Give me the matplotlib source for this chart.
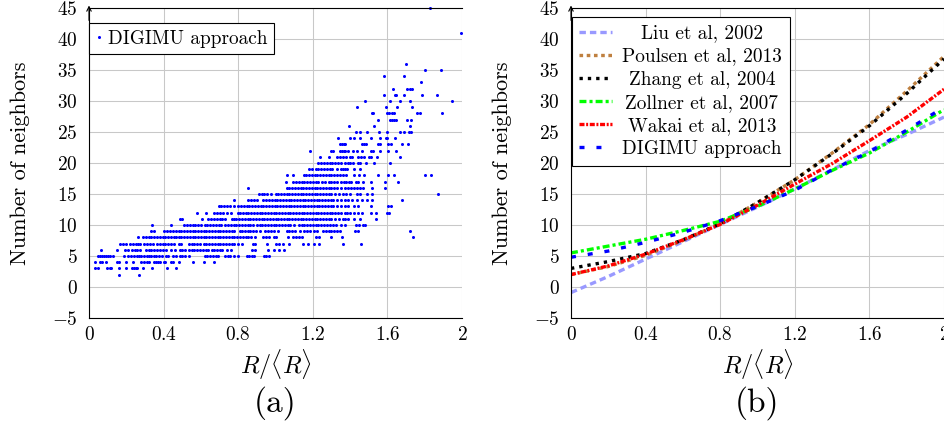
import numpy as np
import matplotlib.pyplot as plt

# --- Plot Style ---
plt.rcParams.update({
    "font.family": "cmr10",
    "mathtext.fontset": "cm",
    "axes.formatter.use_mathtext": True,
    "lines.scale_dashes": False,
    "axes.unicode_minus": True,
})

# --- Data: (a) neighbours per grain, one list per neighbour count ---
r02 = [0.16, 0.27]
r03 = [0.03, 0.05, 0.095, 0.11, 0.12, 0.16, 0.20, 0.23, 0.24, 0.25, 0.26, 0.29, 0.34, 0.42, 0.465]
r04 = [0.03, 0.06, 0.07, 0.09, 0.15, 0.16, 0.20, 0.235, 0.28, 0.295, 0.31, 0.32, 0.35, 0.36, 0.37,
       0.38, 0.40, 0.41, 0.44, 0.45, 0.48, 0.56, 0.615, 0.67]
r05 = [0.05, 0.06, 0.07, 0.08, 0.09, 0.10, 0.11, 0.13, 0.185, 0.21, 0.225, 0.24, 0.255, 0.27, 0.28,
       0.295, 0.31, 0.32, 0.335, 0.35, 0.36, 0.375, 0.39, 0.415, 0.425, 0.45, 0.465, 0.49, 0.50,
       0.515, 0.535, 0.62, 0.635, 0.65, 0.665, 0.68, 0.69, 0.73, 0.745, 0.755, 0.78, 0.80, 0.845,
       0.86, 0.875, 0.885, 0.94, 0.95, 0.965]
r06 = [0.065, 0.15, 0.195, 0.21, 0.23, 0.245, 0.26, 0.275, 0.305, 0.32, 0.335, 0.35, 0.365, 0.38,
       0.395, 0.415, 0.44, 0.46, 0.49, 0.50, 0.515, 0.535, 0.55, 0.565, 0.58, 0.595, 0.61, 0.625,
       0.64, 0.66, 0.67, 0.685, 0.70, 0.715, 0.74, 0.76, 0.875, 0.89, 0.96, 0.99, 1.02, 1.045]
r07 = [0.165, 0.18, 0.20, 0.22, 0.235, 0.25, 0.265, 0.275, 0.295, 0.31, 0.325, 0.345, 0.365, 0.38,
       0.395, 0.41, 0.425, 0.44, 0.455, 0.48, 0.495, 0.535, 0.55, 0.565, 0.58, 0.595, 0.615, 0.63,
       0.645, 0.66, 0.675, 0.69, 0.705, 0.72, 0.735, 0.75, 0.765, 0.78, 0.80, 0.82, 0.88, 0.89,
       0.955, 1.005, 1.02, 1.04, 1.075, 1.15, 1.175, 1.205, 1.235, 1.36, 1.46]
r08 = [0.265, 0.29, 0.305, 0.32, 0.335, 0.35, 0.365, 0.38, 0.395, 0.41, 0.425, 0.44, 0.455, 0.465,
       0.48, 0.495, 0.51, 0.525, 0.54, 0.555, 0.57, 0.585, 0.60, 0.615, 0.63, 0.645, 0.66, 0.675,
       0.69, 0.705, 0.72, 0.735, 0.75, 0.765, 0.78, 0.795, 0.81, 0.825, 0.84, 0.855, 0.87, 0.89,
       0.935, 0.95, 0.965, 0.99, 1.005, 1.065, 1.095, 1.11, 1.125, 1.14, 1.215, 1.235, 1.295,
       1.355, 1.735]
r09 = [0.33, 0.35, 0.40, 0.42, 0.435, 0.45, 0.465, 0.48, 0.495, 0.51, 0.525, 0.54, 0.555, 0.57,
       0.585, 0.60, 0.615, 0.63, 0.645, 0.66, 0.675, 0.69, 0.705, 0.72, 0.735, 0.75, 0.765, 0.78,
       0.81, 0.82, 0.835, 0.85, 0.865, 0.88, 0.895, 0.915, 0.945, 0.96, 0.975, 0.99, 1.015, 1.06,
       1.075, 1.09, 1.105, 1.13, 1.155, 1.17, 1.185, 1.205, 1.22, 1.255, 1.27, 1.285, 1.30, 1.315,
       1.33, 1.345, 1.425, 1.445, 1.72]
r10 = [0.34, 0.44, 0.51, 0.525, 0.54, 0.555, 0.57, 0.585, 0.60, 0.62, 0.635, 0.65, 0.665, 0.68,
       0.695, 0.71, 0.73, 0.745, 0.76, 0.775, 0.79, 0.805, 0.82, 0.835, 0.85, 0.865, 0.88, 0.90,
       0.915, 0.93, 0.945, 0.96, 0.975, 0.99, 1.005, 1.02, 1.035, 1.05, 1.065, 1.08, 1.10, 1.125,
       1.14, 1.155, 1.17, 1.185, 1.20, 1.215, 1.23, 1.245, 1.26, 1.275, 1.29, 1.31, 1.325, 1.35,
       1.375, 1.43, 1.45, 1.47, 1.48]
r11 = [0.49, 0.50, 0.605, 0.64, 0.655, 0.67, 0.685, 0.70, 0.715, 0.73, 0.765, 0.775, 0.79, 0.805,
       0.82, 0.835, 0.85, 0.865, 0.88, 0.895, 0.91, 0.925, 0.94, 0.955, 0.97, 0.985, 1.0, 1.015,
       1.03, 1.045, 1.06, 1.075, 1.09, 1.105, 1.12, 1.135, 1.15, 1.165, 1.18, 1.195, 1.21, 1.225,
       1.24, 1.255, 1.27, 1.285, 1.30, 1.32, 1.34, 1.36, 1.375, 1.39, 1.42, 1.455, 1.54]
r12 = [0.58, 0.63, 0.67, 0.685, 0.70, 0.72, 0.74, 0.76, 0.80, 0.81, 0.825, 0.84, 0.855, 0.87, 0.885,
       0.90, 0.915, 0.93, 0.945, 0.96, 0.975, 0.99, 1.005, 1.02, 1.035, 1.05, 1.065, 1.08, 1.095,
       1.11, 1.125, 1.14, 1.155, 1.17, 1.185, 1.20, 1.215, 1.23, 1.245, 1.26, 1.275, 1.29, 1.305,
       1.32, 1.335, 1.35, 1.37, 1.385, 1.40, 1.42, 1.44, 1.465, 1.51, 1.54, 1.60, 1.61]
r13 = [0.695, 0.71, 0.725, 0.74, 0.755, 0.775, 0.80, 0.815, 0.83, 0.845, 0.86, 0.875, 0.89, 0.905,
       0.92, 0.935, 0.95, 0.965, 0.98, 0.995, 1.01, 1.025, 1.04, 1.055, 1.07, 1.085, 1.10, 1.115,
       1.13, 1.145, 1.16, 1.175, 1.19, 1.205, 1.22, 1.235, 1.25, 1.265, 1.28, 1.295, 1.31, 1.33,
       1.35, 1.37, 1.39, 1.42, 1.445, 1.51, 1.605, 1.62]
r14 = [0.78, 0.855, 0.87, 0.885, 0.90, 0.935, 0.95, 0.965, 0.98, 0.995, 1.01, 1.025, 1.04, 1.055,
       1.07, 1.085, 1.10, 1.115, 1.13, 1.145, 1.16, 1.175, 1.19, 1.205, 1.22, 1.235, 1.25, 1.265,
       1.28, 1.295, 1.31, 1.33, 1.35, 1.37, 1.39, 1.41, 1.435, 1.465, 1.49, 1.515, 1.68]
r15 = [0.91, 0.925, 0.94, 0.955, 0.975, 1.0, 1.015, 1.03, 1.045, 1.06, 1.075, 1.09, 1.105, 1.12,
       1.135, 1.15, 1.165, 1.18, 1.195, 1.21, 1.225, 1.24, 1.255, 1.27, 1.285, 1.30, 1.32, 1.34,
       1.36, 1.38, 1.40, 1.435, 1.455, 1.49, 1.515, 1.87]
r16 = [0.855, 1.06, 1.075, 1.09, 1.105, 1.12, 1.135, 1.15, 1.165, 1.18, 1.195, 1.21, 1.225, 1.24,
       1.255, 1.27, 1.285, 1.30, 1.315, 1.33, 1.35, 1.37, 1.39, 1.405, 1.42, 1.435, 1.455, 1.47,
       1.515, 1.585]
r17 = [1.055, 1.095, 1.11, 1.125, 1.14, 1.155, 1.17, 1.185, 1.20, 1.215, 1.23, 1.25, 1.265, 1.285,
       1.30, 1.315, 1.33, 1.35, 1.365, 1.38, 1.395, 1.405, 1.43, 1.44, 1.47, 1.51, 1.585, 1.655]
r18 = [1.06, 1.095, 1.155, 1.165, 1.18, 1.195, 1.21, 1.225, 1.24, 1.255, 1.27, 1.285, 1.30, 1.315,
       1.33, 1.345, 1.36, 1.38, 1.42, 1.45, 1.475, 1.55, 1.605, 1.635, 1.80, 1.835]
r19 = [1.18, 1.195, 1.215, 1.23, 1.245, 1.26, 1.275, 1.29, 1.305, 1.33, 1.35, 1.36, 1.375, 1.385,
       1.42, 1.455]
r20 = [1.23, 1.245, 1.26, 1.275, 1.29, 1.305, 1.32, 1.335, 1.35, 1.375, 1.39, 1.40, 1.415, 1.44,
       1.455, 1.485, 1.53, 1.615]
r21 = [1.24, 1.285, 1.33, 1.345, 1.36, 1.38, 1.40, 1.41, 1.445, 1.46, 1.475, 1.50, 1.51, 1.545, 1.67]
r22 = [1.185, 1.30, 1.31, 1.345, 1.355, 1.365, 1.375, 1.39, 1.415, 1.435, 1.465, 1.51, 1.525, 1.56,
       1.605, 1.645]
r23 = [1.345, 1.355, 1.365, 1.375, 1.465, 1.475, 1.485, 1.55, 1.56, 1.605, 1.62, 1.68, 1.71]
r24 = [1.335, 1.40, 1.42, 1.455, 1.51, 1.56, 1.59, 1.60, 1.64]
r25 = [1.43, 1.455, 1.49, 1.555, 1.60, 1.67, 1.69, 1.715, 1.725]
r26 = [1.395, 1.53, 1.72]
r27 = [1.55, 1.615, 1.625, 1.635, 1.645, 1.705, 1.725]
r28 = [1.515, 1.525, 1.60, 1.61, 1.625, 1.635, 1.76, 1.775, 1.895]
r29 = [1.435, 1.59, 1.65, 1.73]
r30 = [1.48, 1.615, 1.665, 1.72, 1.945]
r31 = [1.58, 1.64, 1.645, 1.69, 1.785, 1.865]
r32 = [1.63, 1.705, 1.72, 1.73]
r33 = [1.78]
r34 = [1.58, 1.69]
r35 = [1.80, 1.89]
r36 = [1.70]
r41 = [1.995]
r45 = [1.83]

scatter_rows = {2: r02, 3: r03, 4: r04, 5: r05, 6: r06, 7: r07, 8: r08, 9: r09, 10: r10,
                11: r11, 12: r12, 13: r13, 14: r14, 15: r15, 16: r16, 17: r17, 18: r18,
                19: r19, 20: r20, 21: r21, 22: r22, 23: r23, 24: r24, 25: r25, 26: r26,
                27: r27, 28: r28, 29: r29, 30: r30, 31: r31, 32: r32, 33: r33, 34: r34,
                35: r35, 36: r36, 41: r41, 45: r45}

# --- Data: (b) fitted laws ---
r_fit = [0.0, 0.2, 0.4, 0.6, 0.8, 1.0, 1.2, 1.4, 1.6, 1.8, 2.0]
liu = [-0.9, 1.7, 4.5, 7.3, 10.1, 12.9, 15.8, 18.9, 22.0, 24.6, 27.4]
poulsen = [2.0, 3.3, 5.1, 7.5, 10.2, 13.6, 17.3, 21.6, 26.2, 31.6, 37.2]
zhang = [3.0, 4.1, 5.4, 7.6, 10.2, 13.6, 17.3, 21.5, 26.0, 31.2, 36.8]
zollner = [5.5, 6.6, 7.7, 9.1, 10.6, 13.0, 15.8, 18.8, 21.6, 25.0, 28.6]
wakai = [2.0, 3.4, 5.3, 7.6, 10.1, 13.2, 16.6, 19.9, 23.6, 27.4, 31.9]
digimu = [4.8, 5.8, 7.2, 8.8, 10.7, 13.0, 15.6, 18.9, 21.8, 25.3, 29.0]

x_ticks = [0, 0.4, 0.8, 1.2, 1.6, 2]
x_ticklabels = ["$0$", "$0.4$", "$0.8$", "$1.2$", "$1.6$", "$2$"]
y_ticks = [-5, 0, 5, 10, 15, 20, 25, 30, 35, 40, 45]
y_ticklabels = ["$%d$" % v for v in y_ticks]

# --- Figure Setup ---
fig = plt.figure(figsize=(9.45, 4.24), dpi=100)
ax_a = fig.add_axes([89 / 945, 106 / 424, 373 / 945, 310 / 424])
ax_b = fig.add_axes([571 / 945, 106 / 424, 373 / 945, 310 / 424])


def style_axes(ax, tag):
    ax.set_xlim(0, 2)
    ax.set_ylim(-5, 45)
    ax.set_xticks(x_ticks)
    ax.set_xticklabels(x_ticklabels)
    ax.set_yticks(y_ticks)
    ax.set_yticklabels(y_ticklabels)
    ax.tick_params(length=0, labelsize=13.9)
    ax.tick_params(axis="y", pad=8)
    ax.tick_params(axis="x", pad=6)
    ax.grid(True, color="#c8c8c8", linewidth=0.75)
    ax.set_axisbelow(True)
    for s in ("left", "bottom", "top"):
        ax.spines[s].set_linewidth(0.8)
        ax.spines[s].set_color("black")
    ax.spines["right"].set_visible(False)
    ax.set_ylabel("Number of neighbors", fontsize=16)
    ax.yaxis.set_label_coords(-0.185, 0.5)
    ax.yaxis.label.set_va("center")
    ax.set_xlabel(r"$R/\langle R\rangle$", fontsize=17.5)
    ax.xaxis.set_label_coords(0.5, -0.152)
    ax.xaxis.label.set_va("center")
    ax.text(0.5, -0.275, tag, transform=ax.transAxes, ha="center", va="center", fontsize=24)
    ax.annotate("", xy=(0, 1.008), xytext=(0, 0.96), xycoords="axes fraction",
                arrowprops=dict(arrowstyle="->", lw=0.8, color="black",
                                shrinkA=0, shrinkB=0, mutation_scale=8))


# --- (a) scatter ---
for i, (n, xs) in enumerate(scatter_rows.items()):
    ax_a.plot(xs, [n] * len(xs), linestyle="none", marker="o", markersize=2.2,
              markeredgewidth=0, color="#0000ff", clip_on=False,
              label="DIGIMU approach" if i == 0 else None)
style_axes(ax_a, "(a)")
leg_a = ax_a.legend(loc="upper left", bbox_to_anchor=(0.0, 0.9506), borderaxespad=0,
                    fontsize=13.9, frameon=True, fancybox=False, framealpha=1,
                    edgecolor="black", handlelength=0.35, handletextpad=0.3,
                    borderpad=0.33, markerscale=1.0)
leg_a.get_frame().set_linewidth(0.8)

# --- (b) fitted curves ---
lw = 2.4
ax_b.plot(r_fit, liu, color="#9999ff", lw=lw, linestyle=(0, (4.6, 2.9)), label="Liu et al, 2002")
ax_b.plot(r_fit, poulsen, color="#bf8040", lw=lw, linestyle=(0, (2.6, 2.6)), label="Poulsen et al, 2013")
ax_b.plot(r_fit, zhang, color="black", lw=lw, linestyle=(0, (2.4, 3.6)), label="Zhang et al, 2004")
ax_b.plot(r_fit, zollner, color="#00ff00", lw=lw, linestyle=(0, (5.0, 2.2, 2.2, 2.2)),
          label="Zollner et al, 2007")
ax_b.plot(r_fit, wakai, color="#ff0000", lw=lw, linestyle=(0, (3.6, 1.2, 1.4, 1.2)),
          label="Wakai et al, 2013")
ax_b.plot(r_fit, digimu, color="#0000ff", lw=lw, linestyle=(0, (3.6, 8.6)), label="DIGIMU approach")
style_axes(ax_b, "(b)")
leg_b = ax_b.legend(loc="upper left", bbox_to_anchor=(0.002, 0.972), borderaxespad=0,
                    fontsize=13.9, frameon=True, fancybox=False, framealpha=1,
                    edgecolor="black", handlelength=1.7, handletextpad=0.5,
                    borderpad=0.4, labelspacing=0.27)
leg_b.get_frame().set_linewidth(0.8)

# centre legend texts like pgfplots does
fig.canvas.draw()
texts = leg_b.get_texts()
widths = [t.get_window_extent().width for t in texts]
wmax = max(widths)
for t, w in zip(texts, widths):
    t.set_position(((wmax - w) / 2, 0))

plt.savefig("out.png", dpi=100)
